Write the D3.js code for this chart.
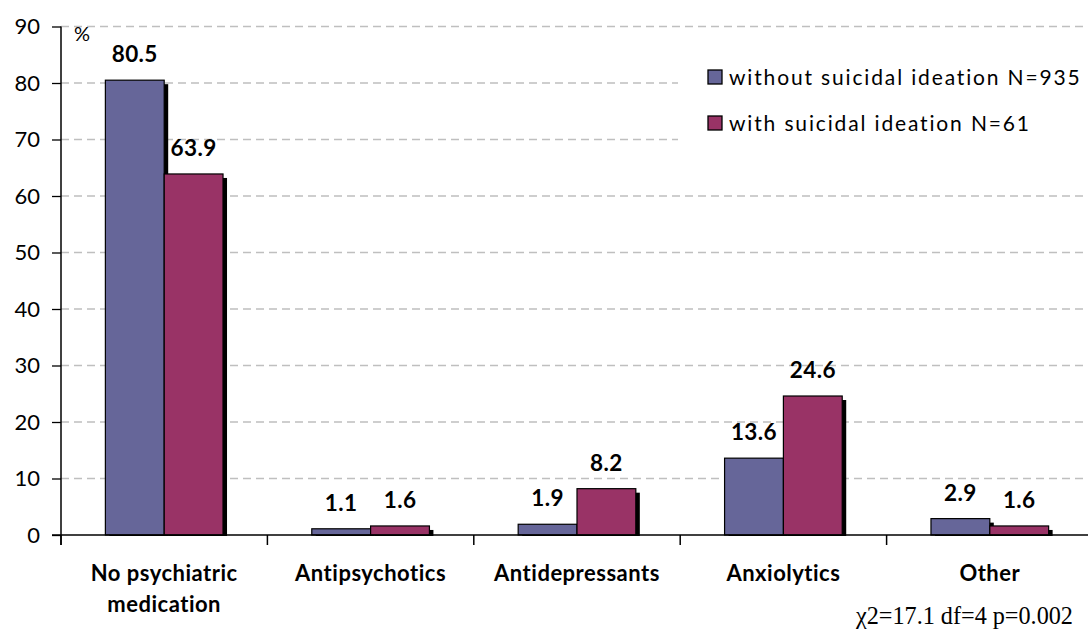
<!DOCTYPE html>
<html>
<head>
<meta charset="utf-8">
<script src="https://cdn.jsdelivr.net/npm/d3@7"></script>
<style>
  body { margin: 0; background: #fff; }
  svg { display: block; font-family: Lato, "Open Sans", sans-serif; }
</style>
</head>
<body>
<svg id="chart" width="1088" height="630"></svg>
<script>
// data
var categories = ['No psychiatric\nmedication', 'Antipsychotics', 'Antidepressants', 'Anxiolytics', 'Other'];
var withoutIdeation = [80.5, 1.1, 1.9, 13.6, 2.9];
var withIdeation = [63.9, 1.6, 8.2, 24.6, 1.6];
var seriesNames = ['without suicidal ideation N=935', 'with suicidal ideation N=61'];
var colors = ['#666699', '#993366'];
var yTicks = [0, 10, 20, 30, 40, 50, 60, 70, 80, 90];

var svg = d3.select('#chart');
var plotLeft = 61, plotRight = 1093, plotTop = 26.5, plotBottom = 535;

var x = d3.scaleBand()
  .domain(categories)
  .range([plotLeft, plotRight])
  .paddingInner(0.43)
  .paddingOuter(0.215);

var x1 = d3.scaleBand()
  .domain([0, 1])
  .range([0, x.bandwidth()]);

var y = d3.scaleLinear()
  .domain([0, 90])
  .range([plotBottom, plotTop]);

// gridlines
svg.append('g')
  .selectAll('line')
  .data(yTicks.filter(function(d) { return d > 0; }))
  .join('line')
  .attr('x1', plotLeft)
  .attr('x2', plotRight)
  .attr('y1', function(d) { return y(d); })
  .attr('y2', function(d) { return y(d); })
  .attr('stroke', '#bfbfbf')
  .attr('stroke-width', 1.3)
  .attr('stroke-dasharray', '8,5');

// legend backdrop hides the grid behind it
svg.append('rect')
  .attr('x', 678).attr('y', 45)
  .attr('width', 410).attr('height', 125)
  .attr('fill', '#fff');

// y axis
var yAxis = svg.append('g')
  .attr('transform', 'translate(' + plotLeft + ',0)')
  .call(d3.axisLeft(y).tickValues(yTicks).tickSize(9).tickPadding(12));
yAxis.select('.domain').remove();
yAxis.selectAll('.tick line').attr('stroke', '#000').attr('stroke-width', 1.3);
yAxis.selectAll('text')
  .attr('font-size', 22)
  .attr('font-family', 'Lato, sans-serif')
  .attr('fill', '#000');

svg.append('line')
  .attr('x1', plotLeft).attr('x2', plotLeft)
  .attr('y1', plotTop).attr('y2', plotBottom + 10)
  .attr('stroke', '#000').attr('stroke-width', 1.5);

svg.append('text')
  .attr('x', 74).attr('y', 41)
  .attr('font-size', 20)
  .text('%');

// bars
var groups = svg.append('g')
  .selectAll('g')
  .data(categories.map(function(c, i) {
    return { cat: c, vals: [withoutIdeation[i], withIdeation[i]] };
  }))
  .join('g')
  .attr('transform', function(d) { return 'translate(' + x(d.cat) + ',0)'; });

// shadows first, then bars drawn over
groups.selectAll('rect.shadow')
  .data(function(d) { return d.vals; })
  .join('rect')
  .attr('class', 'shadow')
  .attr('x', function(d, i) { return x1(i) + 4; })
  .attr('y', function(d) { return y(d) + 4; })
  .attr('width', x1.bandwidth())
  .attr('height', function(d) { return plotBottom - y(d) - 3; })
  .attr('fill', '#000');

groups.selectAll('rect.bar')
  .data(function(d) { return d.vals; })
  .join('rect')
  .attr('class', 'bar')
  .attr('x', function(d, i) { return x1(i); })
  .attr('y', function(d) { return y(d); })
  .attr('width', x1.bandwidth())
  .attr('height', function(d) { return plotBottom - y(d); })
  .attr('fill', function(d, i) { return colors[i]; })
  .attr('stroke', '#000')
  .attr('stroke-width', 1.2);

groups.selectAll('text.val')
  .data(function(d) { return d.vals; })
  .join('text')
  .attr('class', 'val')
  .attr('x', function(d, i) { return x1(i) + x1.bandwidth() / 2; })
  .attr('y', function(d) { return y(d) - 18; })
  .attr('text-anchor', 'middle')
  .attr('font-size', 22.5)
  .attr('font-weight', 'bold')
  .attr('letter-spacing', 0.4)
  .text(function(d) { return d.toFixed(1); });

// x axis
svg.append('line')
  .attr('x1', plotLeft - 9).attr('x2', plotRight)
  .attr('y1', plotBottom).attr('y2', plotBottom)
  .attr('stroke', '#000').attr('stroke-width', 1.3);

var step = x.step();
svg.append('g')
  .selectAll('line')
  .data(categories)
  .join('line')
  .attr('x1', function(d) { return x(d) - x.paddingOuter() * step; })
  .attr('x2', function(d) { return x(d) - x.paddingOuter() * step; })
  .attr('y1', plotBottom)
  .attr('y2', plotBottom + 10)
  .attr('stroke', '#000')
  .attr('stroke-width', 1.5);

svg.append('g')
  .selectAll('text')
  .data(categories)
  .join('text')
  .attr('x', function(d) { return x(d) + x.bandwidth() / 2; })
  .attr('y', 581)
  .attr('text-anchor', 'middle')
  .attr('font-size', 22)
  .attr('font-weight', 'bold')
  .attr('letter-spacing', 0.5)
  .each(function(d) {
    var t = d3.select(this);
    d.split('\n').forEach(function(line, i) {
      t.append('tspan')
        .attr('x', x(d) + x.bandwidth() / 2)
        .attr('dy', i === 0 ? 0 : 31)
        .text(line);
    });
  });

// legend
var legend = svg.append('g')
  .selectAll('g')
  .data(seriesNames)
  .join('g')
  .attr('transform', function(d, i) { return 'translate(708,' + (77 + i * 46) + ')'; });

legend.append('rect')
  .attr('x', 0).attr('y', -7)
  .attr('width', 14).attr('height', 14)
  .attr('fill', function(d, i) { return colors[i]; })
  .attr('stroke', '#000')
  .attr('stroke-width', 1.3);

legend.append('text')
  .attr('x', 21)
  .attr('y', 7.5)
  .attr('font-size', 21)
  .attr('letter-spacing', 1.85)
  .text(function(d) { return d; });

svg.append('text')
  .attr('x', 856).attr('y', 624)
  .attr('font-family', '"Liberation Serif", "Times New Roman", serif')
  .attr('font-size', 24.2)
  .text('χ2=17.1 df=4 p=0.002');
</script>
</body>
</html>
